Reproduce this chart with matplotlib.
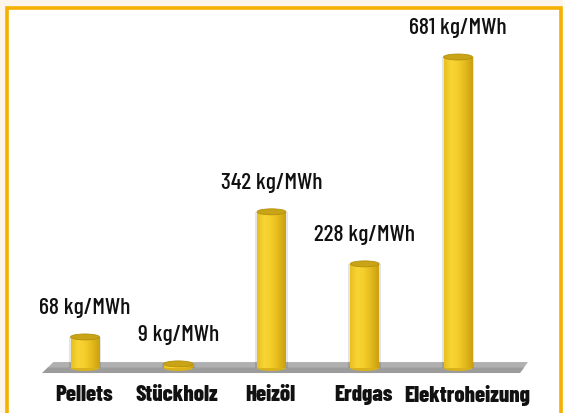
import matplotlib
matplotlib.use("Agg")
import matplotlib.pyplot as plt
import numpy as np
from matplotlib.patches import Rectangle, Ellipse, Polygon
from matplotlib.colors import LinearSegmentedColormap

categories = ["Pellets", "Stückholz", "Heizöl", "Erdgas", "Elektroheizung"]
values = [68, 9, 342, 228, 681]
value_labels = ["68 kg/MWh", "9 kg/MWh", "342 kg/MWh", "228 kg/MWh", "681 kg/MWh"]

W, H = 563, 413
fig = plt.figure(figsize=(W / 100, H / 100), dpi=100)
fig.patch.set_facecolor("#fdf5ea")

ax = fig.add_axes([0, 0, 1, 1])
ax.set_facecolor("none")
x0px, dx = 85.0, 93.25
base_px, scale = 368.0, 0.4567
ax.axis("off")

# orange frame with white interior
frame = Rectangle((7.5 / W, -0.05), (561 - 7.5) / W, (H - 7.5) / H + 0.05,
                  transform=fig.transFigure, facecolor="white",
                  edgecolor="#f5b000", linewidth=2.6, zorder=0, clip_on=False)
ax.add_patch(frame)

font = "Barlow Condensed"

# floor
floor = Polygon([(-0.46, -11), (-0.34, 13), (4.75, 13), (4.665, -11)],
                closed=True, facecolor="#b0b0b0", edgecolor="none", zorder=1)
ax.add_patch(floor)
floor_low = Polygon([(-0.46, -11), (-0.40, 1), (4.71, 1), (4.665, -11)],
                    closed=True, facecolor="#8f8f8f", edgecolor="none", zorder=1, alpha=0.6)
ax.add_patch(floor_low)

cmap = LinearSegmentedColormap.from_list(
    "gold", ["#e8c020", "#f8d535", "#f3cd2a", "#e2b81c", "#c9a010"])
grad = np.linspace(0, 1, 64).reshape(1, -1)

bw = 0.31
eh = 13.0
for i, v in enumerate(values):
    ax.add_patch(Rectangle((i - bw / 2 - 0.02, 0), bw + 0.04, v,
                           facecolor="#000000", alpha=0.10, edgecolor="none", zorder=2))
    im = ax.imshow(grad, cmap=cmap, aspect="auto",
                   extent=(i - bw / 2, i + bw / 2, 0, v), zorder=3)
    clip = Rectangle((i - bw / 2, 0), bw, v, transform=ax.transData)
    im.set_clip_path(clip)
    ax.add_patch(Ellipse((i, 0), bw, eh, facecolor="#d9b21a", edgecolor="none", zorder=2.9))
    ax.add_patch(Ellipse((i, v), bw, eh, facecolor="#c9a416", edgecolor="#b3900c",
                         linewidth=0.6, zorder=4))
    ax.annotate(value_labels[i], xy=(i, v), xytext=(0, 21), textcoords="offset points",
                ha="center", va="center", fontsize=17, family=font, fontweight=500,
                color="#111111")
    off = 6.5 if i == len(values) - 1 else -1
    ax.annotate(categories[i], xy=(i, 0), xytext=(off, -19.5), textcoords="offset points",
                ha="center", va="center", fontsize=16.5, family=font,
                fontweight=800, color="#111111")

ax.set_xlim(-x0px / dx, (W - x0px) / dx)
ax.set_ylim((base_px - H) / scale, base_px / scale)
fig.savefig("out.png", dpi=100, facecolor=fig.get_facecolor())
